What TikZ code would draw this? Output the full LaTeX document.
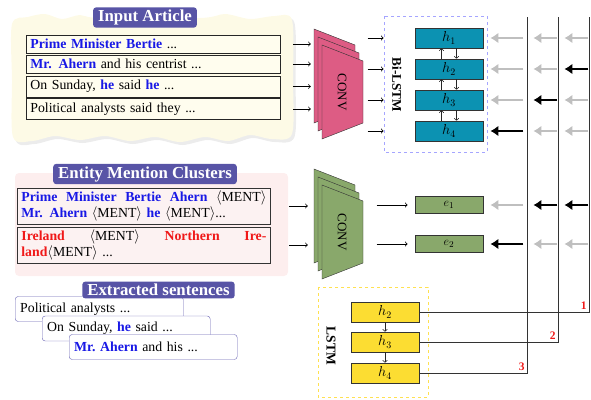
\documentclass[tikz,border=0pt]{standalone}
\usepackage{fontspec}
\setmainfont{Liberation Serif}
\usepackage{tikz}
\usetikzlibrary{arrows.meta,shadows}
\definecolor{headpurple}{RGB}{88,84,166}
\definecolor{paper}{RGB}{253,250,230}
\definecolor{cream}{RGB}{255,253,238}
\definecolor{pinkbg}{RGB}{253,238,238}
\definecolor{pinkbox}{RGB}{252,242,242}
\definecolor{convpink}{RGB}{221,92,132}
\definecolor{convgreen}{RGB}{137,168,107}
\definecolor{cellblue}{RGB}{12,146,178}
\definecolor{cellyellow}{RGB}{252,221,50}
\definecolor{mentblue}{RGB}{25,25,230}
\definecolor{mentred}{RGB}{240,25,25}
\definecolor{dashblue}{RGB}{165,165,255}
\definecolor{dashyellow}{RGB}{255,225,80}
\definecolor{sentpurple}{RGB}{105,100,180}
\newcommand{\ment}{$\langle$MENT$\rangle$}
\newcommand{\mblue}[1]{\textcolor{mentblue}{\textbf{#1}}}
\newcommand{\mred}[1]{\textcolor{mentred}{\textbf{#1}}}
\tikzset{>={Latex[length=8pt,width=10.5pt]}}

\begin{document}
\begin{tikzpicture}[x=1pt,y=-1pt]
                % pixel grid of the reference, y pointing down
                \tikzstyle{every node}=[font=\fontsize{13.8}{14.6}\selectfont]
                \tikzstyle{headbox}=[fill=headpurple, text=white, rounded corners=3pt, inner xsep=5pt, inner ysep=2.5pt, font=\fontsize{16.8}{18}\selectfont\bfseries]
                \tikzstyle{sentbox}=[draw=black!85, thick, fill=cream, text width=246, inner xsep=4pt, inner ysep=1pt, anchor=west]
                \tikzstyle{clubox}=[draw=black!80, thick, fill=pinkbox, text width=245, inner xsep=4pt, inner ysep=1.5pt, anchor=west, minimum height=36, font=\fontsize{13.8}{16}\selectfont]
                \tikzstyle{exbox}=[draw=sentpurple, fill=white, rounded corners=3pt, text width=158, inner xsep=5pt, inner ysep=1pt, minimum height=25, anchor=west]
                \tikzstyle{hcell}=[draw=black!80, thick, fill=cellblue, minimum width=68, minimum height=20, inner sep=0pt]
                \tikzstyle{ecell}=[draw=black!80, thick, fill=convgreen, minimum width=68, minimum height=17, inner sep=0pt, font=\fontsize{12.5}{12.5}\selectfont]
                \tikzstyle{lcell}=[draw=black!80, thick, fill=cellyellow, minimum width=68, minimum height=20, inner sep=0pt]
                \tikzstyle{feed}=[black, thick, -to]
                \tikzstyle{inner}=[black!85, semithick, -{To[length=2.5pt,width=5pt]}]
                \tikzstyle{arrg}=[black!25, line width=1.2pt, ->]
                \tikzstyle{arrk}=[black, line width=1.2pt, ->]
                \tikzstyle{link}=[black!80, line width=0.7pt]
                \tikzstyle{num}=[text=mentred, font=\fontsize{11.5}{12}\selectfont\bfseries, inner sep=2pt]
                \useasboundingbox (0,0) rectangle (591,399);

                % torn paper of the input article
                \fill[paper, drop shadow={shadow xshift=2.5pt, shadow yshift=-3pt, opacity=0.15}]
                        plot[smooth cycle, tension=0.5] coordinates {(12,24) (28,17) (45,14) (62,19) (80,15)
                        (100,18) (200,18) (225,14) (250,19) (275,16) (292,20) (293,80) (292,134) (272,139)
                        (250,135) (228,141) (205,137) (180,142) (155,137) (130,141) (105,136) (80,140)
                        (55,136) (32,141) (13,137) (12,80)};
                \node[headbox] (inhead) at (145,17.5) {Input Article};
                \node[sentbox, minimum height=18] (s1) at (26,44) {\mblue{Prime Minister Bertie} ...};
                \node[sentbox, minimum height=18] (s2) at (26,64) {\mblue{Mr. Ahern} and his centrist ...};
                \node[sentbox, minimum height=21] (s3) at (26,86.5) {On Sunday, \mblue{he} said \mblue{he} ...};
                \node[sentbox, minimum height=21] (s4) at (26,109) {Political analysts said they ...};

                % entity mention clusters
                \fill[pinkbg, rounded corners=4pt] (15,173) rectangle (288,276);
                \node[headbox] (enthead) at (145,174) {Entity Mention Clusters};
                \node[clubox] (c1) at (17,206) {\mblue{Prime}\hfill\mblue{Minister}\hfill\mblue{Bertie}\hfill\mblue{Ahern}\hfill\ment\\
                        \mblue{Mr. Ahern} \ment{} \mblue{he} \ment...};
                \node[clubox] (c2) at (17,245) {\mred{Ireland}\hfill\ment\hfill\mred{Northern}\hfill\mred{Ire-}\\
                        \mred{land}\ment{} ...};

                % extracted sentences
                \node[exbox] (x1) at (15,309) {Political analysts ...};
                \node[headbox] (exthead) at (158.5,290) {Extracted sentences};
                \node[exbox] (x2) at (42,328.5) {On Sunday, \mblue{he} said ...};
                \node[exbox] (x3) at (69,347) {\mblue{Mr.\ Ahern} and his ...};

                % conv stacks
                \foreach \k in {2,1,0} {
                        \filldraw[fill=convpink, draw=black!80] (322-4*\k,45-8*\k) -- (363-4*\k,61-8*\k)
                                -- (363-4*\k,123-8*\k) -- (322-4*\k,139-8*\k) -- cycle;
                        \filldraw[fill=convgreen, draw=black!80] (322-4*\k,185-8*\k) -- (363-4*\k,201-8*\k)
                                -- (363-4*\k,263-8*\k) -- (322-4*\k,279-8*\k) -- cycle;
                }
                \node[rotate=-90, font=\fontsize{13}{14}\selectfont] (conv1) at (342,92) {CONV};
                \node[rotate=-90, font=\fontsize{13}{14}\selectfont] (conv2) at (342,232) {CONV};

                % bi-lstm
                \draw[dashblue, dashed, thick] (384,16) rectangle (487,152);
                \node[rotate=-90, font=\fontsize{13.2}{14}\selectfont\bfseries] (bilabel) at (397,85) {Bi-LSTM};
                \node[hcell] (h1) at (449,38) {$h_1$};
                \node[hcell] (h2) at (449,69) {$h_2$};
                \node[hcell] (h3) at (449,100) {$h_3$};
                \node[hcell] (h4) at (449,131) {$h_4$};
                \foreach \a/\b in {h1/h2, h2/h3, h3/h4} {
                        \draw[inner] ([xshift=-7.5pt]\b.north) -- ([xshift=-7.5pt]\a.south);
                        \draw[inner] ([xshift=7.5pt]\a.south) -- ([xshift=7.5pt]\b.north);
                }

                % entity vectors
                \node[ecell] (e1) at (449,205) {$e_1$};
                \node[ecell] (e2) at (449,244) {$e_2$};

                % lstm over extracted sentences
                \draw[dashyellow, dashed, thick] (318,287) rectangle (428,397);
                \node[rotate=-90, font=\fontsize{13.5}{14}\selectfont\bfseries] (llabel) at (331,346) {LSTM};
                \node[lcell] (l2) at (385,312) {$h_2$};
                \node[lcell] (l3) at (385,342) {$h_3$};
                \node[lcell] (l4) at (385,373) {$h_4$};
                \draw[inner] (l2.south) -- (l3.north);
                \draw[inner] (l3.south) -- (l4.north);

                % feeding arrows
                \foreach \s in {s1,s2,s3,s4}
                        \draw[feed] ([xshift=12pt]\s.east) -- ([xshift=30pt]\s.east);
                \foreach \h in {h1,h2,h3,h4}
                        \draw[feed] ([xshift=-47pt]\h.west) -- ([xshift=-31pt]\h.west);
                \foreach \c in {c1,c2}
                        \draw[feed] ([xshift=18pt]\c.east) -- ([xshift=37pt]\c.east);
                \foreach \e in {e1,e2}
                        \draw[feed] ([xshift=-38pt]\e.west) -- ([xshift=-7pt]\e.west);

                % sentence states routed back
                \coordinate (t1) at (589,17);
                \coordinate (t2) at (558,17);
                \coordinate (t3) at (527,17);
                \draw[link] (l2.east) -| node[num, above left] {1} (t1);
                \draw[link] (l3.east) -| node[num, above left] {2} (t2);
                \draw[link] (l4.east) -| node[num, above left] {3} (t3);

                \foreach \n/\a/\b/\c in {h1/g/g/g, h2/g/g/k, h3/g/k/g, h4/k/g/g, e1/g/k/k, e2/k/g/g} {
                        \draw[arr\a] ([xshift=40pt]\n.east) -- ([xshift=7pt]\n.east);
                        \draw[arr\b] ([xshift=74pt]\n.east) -- ([xshift=50pt]\n.east);
                        \draw[arr\c] ([xshift=105pt]\n.east) -- ([xshift=81pt]\n.east);
                }
        \end{tikzpicture}
\end{document}
